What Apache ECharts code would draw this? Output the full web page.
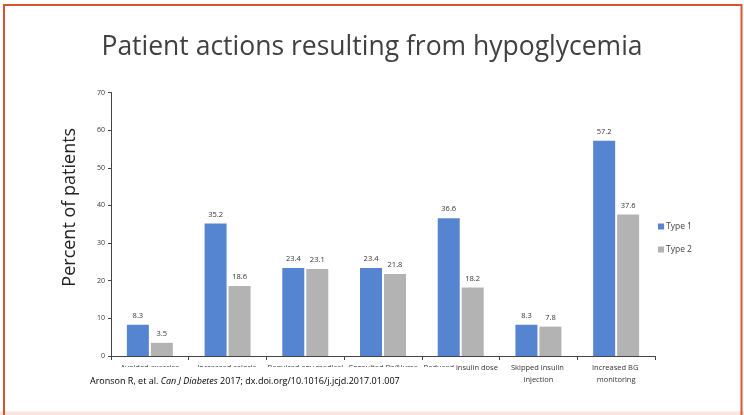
<!DOCTYPE html>
<html><head><meta charset="utf-8">
<script src="https://cdn.jsdelivr.net/npm/echarts@6/dist/echarts.min.js"></script>
<style>html,body{margin:0;padding:0;background:#fff}#c{width:744px;height:415px}</style>
</head><body><div id="c"></div>
<script>
const categories = ["Avoided exercise","Increased caloric intake","Required any medical assistance","Consulted Dr/Nurse","Reduced insulin dose","Skipped insulin injection","Increased BG monitoring"];
const type1 = [8.3, 35.2, 23.4, 23.4, 36.6, 8.3, 57.2];
const type2 = [3.5, 18.6, 23.1, 21.8, 18.2, 7.8, 37.6];
const seriesNames = ["Type 1", "Type 2"];
const yTicks = {min: 0, max: 70, interval: 10};

const chart = echarts.init(document.getElementById('c'), null, {renderer: 'canvas'});
const F = '"Open Sans", "Noto Sans", sans-serif';
const lbl = {show: true, position: 'top', distance: 5, fontSize: 7.5, color: '#333', fontFamily: F};
chart.setOption({
  animation: false,
  backgroundColor: '#fff',
  title: {text: 'Patient actions resulting from hypoglycemia', left: 'center', top: 29,
    textStyle: {fontFamily: F, fontWeight: 'normal', fontSize: 26.5, color: '#404040'}},
  grid: {left: 111, right: 89, top: 92.5, bottom: 59},
  legend: {orient: 'vertical', left: 653, top: 217, itemWidth: 6, itemHeight: 6, itemGap: 14,
    icon: 'rect', data: seriesNames,
    textStyle: {fontFamily: F, fontSize: 8.5, color: '#444', padding: [0,0,0,-3]}},
  xAxis: {type: 'category', data: categories,
    axisLine: {lineStyle: {color: '#444', width: 1}},
    axisTick: {show: true, length: 4, lineStyle: {color: '#444'}},
    axisLabel: {interval: 0, fontFamily: F, fontSize: 7.5, color: '#333', margin: 6, lineHeight: 12,
      width: 76, overflow: 'break'}},
  yAxis: {type: 'value', min: yTicks.min, max: yTicks.max, interval: yTicks.interval,
    name: 'Percent of patients', nameLocation: 'middle', nameGap: 32,
    nameTextStyle: {fontFamily: F, fontSize: 18, color: '#222', padding: [0, 0, 0, 34]},
    splitLine: {show: false},
    axisLine: {show: true, lineStyle: {color: '#444', width: 1}},
    axisTick: {show: true, length: 3, lineStyle: {color: '#444'}},
    axisLabel: {fontFamily: F, fontSize: 7, color: '#333', margin: 6}},
  series: [
    {name: seriesNames[0], type: 'bar', data: type1, barWidth: 22, barGap: '9%',
      itemStyle: {color: '#5585D1'}, label: lbl},
    {name: seriesNames[1], type: 'bar', data: type2, barWidth: 22,
      itemStyle: {color: '#B3B3B3'}, label: lbl}
  ],
  graphic: [
    {type: 'rect', z: 100, shape: {x: 80, y: 367, width: 375, height: 30}, style: {fill: '#fff'}},
    {type: 'text', z: 101, left: 90, top: 377,
      style: {text: '{n|Aronson R, et al. }{i|Can J Diabetes}{n| 2017; dx.doi.org/10.1016/j.jcjd.2017.01.007}',
        rich: {n: {fontFamily: F, fontSize: 9, color: '#333'}, i: {fontFamily: F, fontSize: 9, fontStyle: 'italic', color: '#333'}}}},
    {type: 'rect', z: 102, shape: {x: 0, y: 411.5, width: 744, height: 4}, style: {fill: '#FBE3DE'}},
    {type: 'rect', z: 103, shape: {x: 4, y: 5, width: 737.5, height: 415}, style: {fill: 'none', stroke: '#D9532B', lineWidth: 2}}
  ]
});
</script></body></html>
